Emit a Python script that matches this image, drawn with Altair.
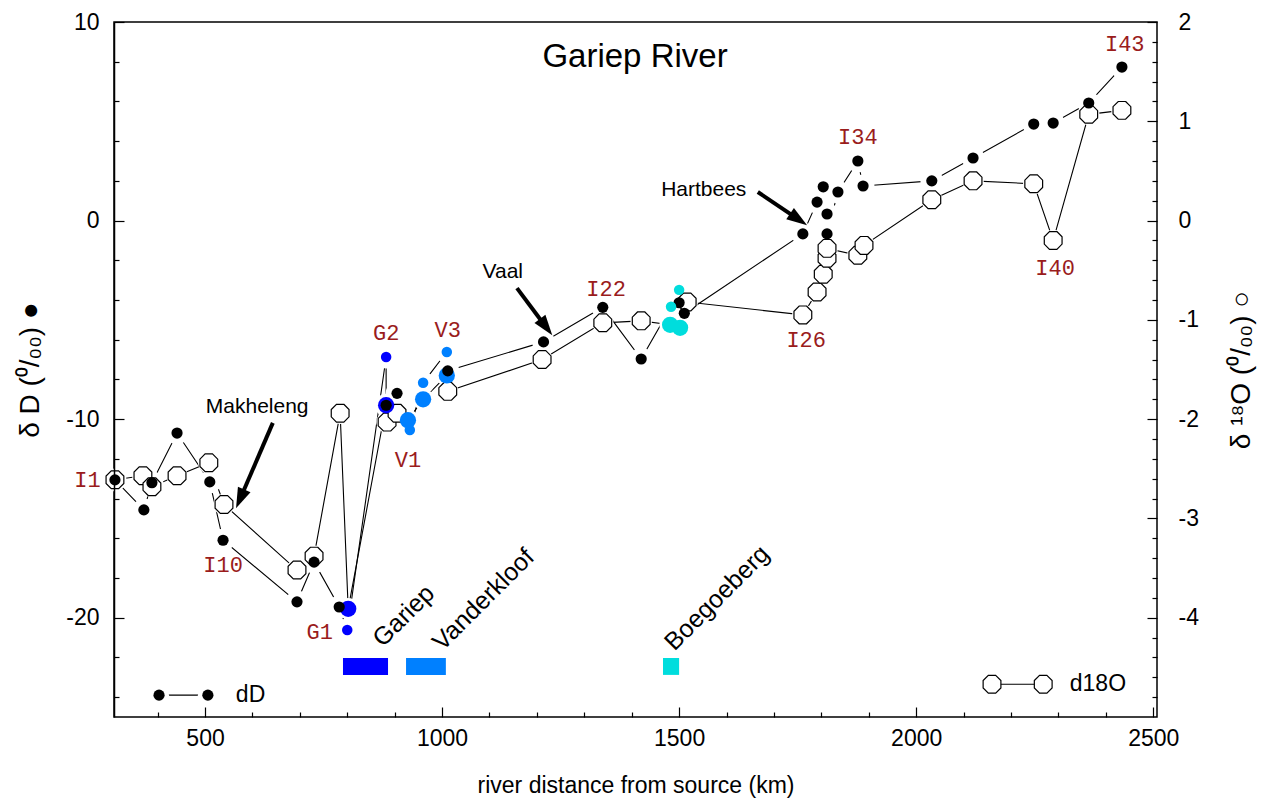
import altair as alt
import pandas as pd

# ---------------- data ----------------
# delta D (filled symbols): river km, value, sample kind (K=river, G=Gariep, V=Vanderkloof, B=Boegoeberg)
dD_km = [310, 371, 388, 441, 510, 538, 694, 730, 783,
         800, 882, 882, 905, 932, 960, 1010, 1012, 1214, 1339, 1420, 1483, 1500, 1500, 1511,
         1761, 1791, 1804, 1812, 1812, 1835, 1877, 1888, 2033, 2120, 2248, 2289, 2364, 2434]
dD_val = [-13.06, -14.57, -13.2, -10.7, -13.16, -16.1, -19.2, -17.2, -19.46,
          -20.62, -6.87, -9.3, -8.7, -10.55, -8.17, -6.62, -7.57, -6.11, -4.37, -6.97, -4.34, -4.14, -3.49, -4.67,
          -0.67, 0.93, 1.7, 0.33, -0.67, 1.44, 3.0, 1.74, 2.0, 3.15, 4.86, 4.91, 5.92, 7.73]
dD_kind = ["K", "K", "K", "K", "K", "K", "K", "K", "K",
           "G", "G", "K", "K", "V", "V", "V", "K", "K", "K", "K", "B", "K", "B", "K",
           "K", "K", "K", "K", "K", "K", "K", "K", "K", "K", "K", "K", "K", "K"]

# delta 18O (open symbols)
o18_km = [310, 369, 388, 441, 508, 540, 694, 730, 785,
          802, 882, 884, 905, 928, 960, 1010, 1012, 1211, 1339, 1420, 1481, 1502, 1517,
          1761, 1791, 1804, 1812, 1812, 1877, 1890, 2033, 2120, 2248, 2289, 2364, 2434]
o18_val = [-2.61, -2.57, -2.68, -2.57, -2.44, -2.86, -3.52, -3.38, -1.94,
           -3.91, -1.86, -2.03, -1.94, -2.01, -1.80, -1.56, -1.72, -1.40, -1.03, -1.01, -1.05, -1.08, -0.82,
           -0.95, -0.72, -0.54, -0.38, -0.28, -0.35, -0.25, 0.21, 0.40, 0.37, -0.20, 1.07, 1.11]
o18_kind = ["O", "O", "O", "O", "O", "O", "O", "O", "O",
            "G", "G", "O", "O", "V", "V", "V", "O", "O", "O", "O", "B", "B", "O",
            "O", "O", "O", "O", "O", "O", "O", "O", "O", "O", "O", "O", "O"]

kind_color = {"K": "black", "G": "#0000FF", "V": "#0080FF", "B": "#00DDDD"}

# sample labels (positioned on the delta D scale)
lab_text = ["I1", "I10", "G1", "G2", "V1", "V3", "I22", "I26", "I34", "I40", "I43"]
lab_km = [252, 538, 742, 882, 928, 1012, 1346, 1768, 1877, 2293, 2440]
lab_dD = [-13.06, -17.34, -20.72, -5.66, -12.06, -5.51, -3.44, -6.01, 4.2, -2.39, 8.89]

# annotations with arrows
ann_text = ["Makheleng", "Vaal", "Hartbees"]
ann_km = [610, 1128, 1552]
ann_dD = [-9.39, -2.59, 1.54]
arr_km0 = [643, 1158, 1666]
arr_dD0 = [-10.19, -3.40, 1.44]
arr_km1 = [575, 1218, 1750]
arr_dD1 = [-13.96, -5.32, 0.09]
arr_ang = [203.5, 143, 124]

# reservoirs
res_name = ["Gariep", "Vanderkloof", "Boegoeberg"]
res_km0 = [791, 924, 1466]
res_km1 = [886, 1008, 1500]
res_top = [-22.03, -22.03, -22.03]
res_bot = [-22.88, -22.88, -22.88]
res_color = ["#0000FF", "#0080FF", "#00DDDD"]
res_lab_km = [875, 1001, 1490]
res_lab_dD = [-21.52, -21.71, -21.71]

# legends
leg_dD_km = [403, 506]
leg_dD_val = [-23.9, -23.9]
leg_o_km = [2160, 2268]
leg_o_val = [-4.67, -4.67]

title_km, title_dD = 1407, 8.24

# tick values
left_major = [-20, -10, 0, 10]
left_minor = [v for v in range(-24, 10, 2) if v % 10 != 0]
right_major = [-4, -3, -2, -1, 0, 1, 2]
right_minor = [round(-4.8 + 0.2 * i, 1) for i in range(34) if abs(round(-4.8 + 0.2 * i, 1) * 5) % 5 != 0]
bottom_major = [500, 1000, 1500, 2000, 2500]
bottom_minor = [v for v in range(400, 2501, 100) if v % 500 != 0]

# ---------------- tables ----------------
dD_df = pd.DataFrame({"km": dD_km, "val": dD_val, "kind": dD_kind,
                      "col": [kind_color[k] for k in dD_kind], "ord": list(range(len(dD_km)))})
o_df = pd.DataFrame({"km": o18_km, "val": o18_val, "kind": o18_kind,
                     "col": [kind_color.get(k, "black") for k in o18_kind], "ord": list(range(len(o18_km)))})
lab_df = pd.DataFrame({"km": lab_km, "val": lab_dD, "t": lab_text})
ann_df = pd.DataFrame({"km": ann_km, "val": ann_dD, "t": ann_text})
arr_df = pd.DataFrame({"km": arr_km0, "val": arr_dD0, "km1": arr_km1, "val1": arr_dD1, "ang": arr_ang})
res_df = pd.DataFrame({"km": res_km0, "km1": res_km1, "val": res_top, "val1": res_bot, "col": res_color,
                       "lkm": res_lab_km, "lval": res_lab_dD, "t": res_name})
legD_df = pd.DataFrame({"km": leg_dD_km, "val": leg_dD_val})
legO_df = pd.DataFrame({"km": leg_o_km, "val": leg_o_val})
legT_df = pd.DataFrame({"km": [565], "val": [-23.9], "t": ["dD"]})
legTO_df = pd.DataFrame({"km": [2324], "val": [-4.67], "t": ["d18O"]})
title_df = pd.DataFrame({"km": [title_km], "val": [title_dD], "t": ["Gariep River"]})

# ---------------- scales / helpers ----------------
xs = alt.Scale(domain=[308, 2508], nice=False, zero=False)
yDs = alt.Scale(domain=[-25, 10], nice=False, zero=False)
yOs = alt.Scale(domain=[-5, 2], nice=False, zero=False)


def X(f="km", axis=None):
    return alt.X(f + ":Q", scale=xs, axis=axis)


def YD(f="val", axis=None):
    return alt.Y(f + ":Q", scale=yDs, axis=axis)


def YO(f="val", axis=None):
    return alt.Y(f + ":Q", scale=yOs, axis=axis)


OCT = "M0.383,-0.924L0.924,-0.383L0.924,0.383L0.383,0.924L-0.383,0.924L-0.924,0.383L-0.924,-0.383L-0.383,-0.924Z"
HEAD = "M0,-1L0.6,0.8L-0.6,0.8Z"
SANS = "Liberation Sans"
MONO = "Liberation Mono"
LABCOL = "#9A1C1C"

layers = []
# series lines
layers.append(alt.Chart(o_df).mark_line(color="black", strokeWidth=1.1).encode(x=X(), y=YO(), order=alt.Order("ord:Q")))
layers.append(alt.Chart(dD_df).mark_line(color="black", strokeWidth=1.1).encode(x=X(), y=YD(), order=alt.Order("ord:Q")))
# legend lines
layers.append(alt.Chart(legD_df).mark_line(color="black", strokeWidth=1.1).encode(x=X(), y=YD()))
layers.append(alt.Chart(legO_df).mark_line(color="black", strokeWidth=1.1).encode(x=X(), y=YO()))
# halos (gaps in the lines around the symbols)
layers.append(alt.Chart(o_df).mark_circle(color="white", opacity=1, size=460).encode(x=X(), y=YO()))
layers.append(alt.Chart(dD_df).mark_circle(color="white", opacity=1, size=520).encode(x=X(), y=YD()))
layers.append(alt.Chart(legD_df).mark_circle(color="white", opacity=1, size=400).encode(x=X(), y=YD()))
# open octagons (river d18O)
layers.append(alt.Chart(o_df).transform_filter("datum.kind == 'O'").mark_point(
    shape=OCT, size=370, filled=True, fill="white", stroke="black", strokeWidth=1.2, opacity=1
).encode(x=X(), y=YO()))
# coloured large dots (reservoir d18O)
layers.append(alt.Chart(o_df).transform_filter("datum.kind != 'O'").mark_circle(size=265, opacity=1).encode(
    x=X(), y=YO(), color=alt.Color("col:N", scale=None)))
# black dots (river dD)
layers.append(alt.Chart(dD_df).transform_filter("datum.kind == 'K'").mark_circle(size=125, opacity=1, color="black").encode(
    x=X(), y=YD()))
# coloured small dots (reservoir dD)
layers.append(alt.Chart(dD_df).transform_filter("datum.kind != 'K'").mark_circle(size=110, opacity=1).encode(
    x=X(), y=YD(), color=alt.Color("col:N", scale=None)))
# legend symbols
layers.append(alt.Chart(legD_df).mark_circle(size=125, opacity=1, color="black").encode(x=X(), y=YD()))
layers.append(alt.Chart(legO_df).mark_point(shape=OCT, size=370, filled=True, fill="white", stroke="black",
                                            strokeWidth=1.2, opacity=1).encode(x=X(), y=YO()))
layers.append(alt.Chart(legT_df).mark_text(font=SANS, fontSize=23, align="left", baseline="middle", color="black").encode(
    x=X(), y=YD(), text="t:N"))
layers.append(alt.Chart(legTO_df).mark_text(font=SANS, fontSize=23, align="left", baseline="middle", color="black").encode(
    x=X(), y=YO(), text="t:N"))
# sample labels
layers.append(alt.Chart(lab_df).mark_text(font=MONO, fontSize=22, align="center", baseline="middle", color=LABCOL).encode(
    x=X(), y=YD(), text="t:N"))
# annotation texts and arrows
layers.append(alt.Chart(ann_df).mark_text(font=SANS, fontSize=21, align="center", baseline="middle", color="black").encode(
    x=X(), y=YD(), text="t:N"))
layers.append(alt.Chart(arr_df).mark_rule(strokeWidth=4, color="black").encode(
    x=X(), y=YD(), x2=alt.X2("km1"), y2=alt.Y2("val1")))
layers.append(alt.Chart(arr_df).mark_point(shape=HEAD, size=520, filled=True, color="black", opacity=1).encode(
    x=X("km1"), y=YD("val1"), angle=alt.Angle("ang:Q", scale=None)))
# title inside the plot
layers.append(alt.Chart(title_df).mark_text(font=SANS, fontSize=33, align="center", baseline="middle", color="black").encode(
    x=X(), y=YD(), text="t:N"))
# reservoir bars and names
layers.append(alt.Chart(res_df).mark_rect(opacity=1).encode(
    x=X(), x2=alt.X2("km1"), y=YD(), y2=alt.Y2("val1"), color=alt.Color("col:N", scale=None)))
layers.append(alt.Chart(res_df).mark_text(font=SANS, fontSize=25, angle=315, align="left", baseline="alphabetic",
                                          color="black").encode(x=X("lkm"), y=YD("lval"), text="t:N"))

# ---------------- axes (inward ticks via negative offset) ----------------
ax_bottom_major = alt.Axis(orient="bottom", values=bottom_major, tickSize=10, offset=-10, domain=False,
                           labelPadding=10, labelFlush=False, labelOverlap=False,
                           labelExpr="'' + datum.value",
                           title="river distance from source (km)", titlePadding=24, grid=False)
ax_bottom_minor = alt.Axis(orient="bottom", values=bottom_minor, tickSize=5, offset=-5, domain=False,
                           labels=False, title=None, grid=False)
ax_left_major = alt.Axis(orient="left", values=left_major, tickSize=10, offset=-10, domain=False,
                         labelPadding=15, labelOverlap=False, labelExpr="'' + datum.value",
                         title="δ D (⁰/₀₀) ●", titleFontSize=28, titlePadding=21, grid=False)
ax_left_minor = alt.Axis(orient="left", values=left_minor, tickSize=5, offset=-5, domain=False,
                         labels=False, title=None, grid=False)
ax_left_domain = alt.Axis(orient="left", ticks=False, labels=False, domain=True, domainColor="black",
                          domainWidth=1.5, zindex=1, title=None, grid=False)
ax_right_major = alt.Axis(orient="right", values=right_major, tickSize=10, offset=-10, domain=False,
                          labelPadding=21, labelOverlap=False, labelExpr="'' + datum.value",
                          title="δ ¹⁸O (⁰/₀₀) ○", titleFontSize=28, titleAngle=270, titleBaseline="top",
                          titlePadding=29, grid=False)
ax_right_minor = alt.Axis(orient="right", values=right_minor, tickSize=5, offset=-5, domain=False,
                          labels=False, title=None, grid=False)

layers.append(alt.Chart(dD_df).mark_point(opacity=0).encode(x=X(axis=ax_bottom_major), y=YD(axis=ax_left_major)))
layers.append(alt.Chart(dD_df).mark_point(opacity=0).encode(x=X(axis=ax_bottom_minor), y=YD(axis=ax_left_minor)))
layers.append(alt.Chart(dD_df).mark_point(opacity=0).encode(x=X(), y=YD(axis=ax_left_domain)))
layers.append(alt.Chart(o_df).mark_point(opacity=0).encode(x=X(), y=YO(axis=ax_right_major)))
layers.append(alt.Chart(o_df).mark_point(opacity=0).encode(x=X(), y=YO(axis=ax_right_minor)))

chart = alt.layer(*layers).resolve_scale(
    x="independent", y="independent"
).resolve_axis(
    x="independent", y="independent"
).properties(
    width=1043, height=695,
    autosize=alt.AutoSizeParams(type="none"),
    padding={"left": 106, "top": 14, "right": 100, "bottom": 82},
).configure_axis(
    labelFont=SANS, labelFontSize=23, labelColor="black",
    titleFont=SANS, titleFontSize=23, titleFontWeight="normal", titleColor="black",
    tickColor="black", tickWidth=1.2,
).configure_view(
    stroke="black", strokeWidth=1.5
)

chart.save("out.html", embed_options={"renderer": "svg", "actions": False})
